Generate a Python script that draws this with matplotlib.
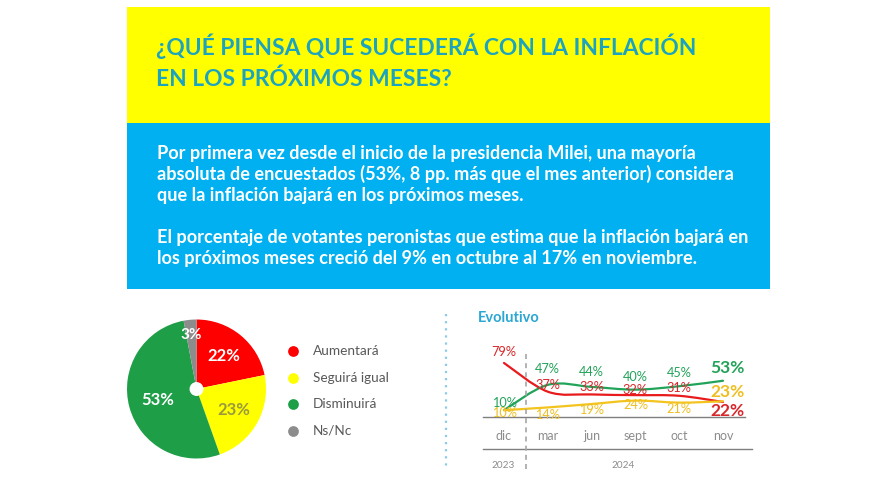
import matplotlib
matplotlib.use("Agg")
import matplotlib.pyplot as plt
from matplotlib.patches import Rectangle, Circle, PathPatch
from matplotlib.path import Path
import numpy as np

plt.rcParams['font.family'] = ['Lato', 'DejaVu Sans']

# ---------------- data ----------------
title_lines = ["¿QUÉ PIENSA QUE SUCEDERÁ CON LA INFLACIÓN", "EN LOS PRÓXIMOS MESES?"]
body_lines = [
    "Por primera vez desde el inicio de la presidencia Milei, una mayoría",
    "absoluta de encuestados (53%, 8 pp. más que el mes anterior) considera",
    "que la inflación bajará en los próximos meses.",
    "",
    "El porcentaje de votantes peronistas que estima que la inflación bajará en",
    "los próximos meses creció del 9% en octubre al 17% en noviembre.",
]

pie_categories = ["Aumentará", "Seguirá igual", "Disminuirá", "Ns/Nc"]
pie_values = [22, 23, 53, 3]

months = ["dic", "mar", "jun", "sept", "oct", "nov"]
years = ["2023", "2024"]
aumentara = [79, 37, 33, 32, 31, 22]
seguira = [10, 14, 19, 24, 21, 23]
disminuira = [10, 47, 44, 40, 45, 53]

# ---------------- styles ----------------
W, H = 888, 500
YELLOW = "#FFFF00"
BLUE = "#00B0F0"
TEAL = "#1BA3C0"
PIE_COLORS = ["#FF0000", "#FFFF00", "#1F9E48", "#8C8C8C"]
PIE_LABEL_COLORS = ["white", "#9A9A3C", "white", "white"]
LINE_RED = "#E81A1C"
LINE_GREEN = "#22A35A"
LINE_YEL = "#F3C31E"

fig = plt.figure(figsize=(W / 100, H / 100), dpi=100)
fig.patch.set_facecolor("white")

# background axes in pixel coordinates
bg = fig.add_axes([0, 0, 1, 1])
bg.set_xlim(0, W)
bg.set_ylim(H, 0)
bg.axis("off")

bg.add_patch(Rectangle((127, 7), 770 - 127, 122.5 - 7, color=YELLOW, lw=0))
bg.add_patch(Rectangle((127, 122.5), 770 - 127, 289 - 122.5, color=BLUE, lw=0))

for i, t in enumerate(title_lines):
    bg.text(156, 55 + i * 31.5, t, color=TEAL, fontsize=16.4, fontweight="bold",
            ha="left", va="baseline")

for i, t in enumerate(body_lines):
    if t:
        bg.text(157, 159 + i * 21, t, color="white", fontsize=13.1, fontweight="bold",
                ha="left", va="baseline")

# dotted separator
bg.plot([446, 446], [314, 470], color="#8CCBE3", lw=1.6, ls=(0, (1, 2.2)))

# legend
for i, (c, col) in enumerate(zip(pie_categories, PIE_COLORS)):
    y = 351 + i * 26.5
    bg.scatter([293], [y], s=60, color=col, zorder=3, linewidths=0)
    bg.text(313, y, c, color="#595959", fontsize=9.8, ha="left", va="center")

# Evolutivo title
bg.text(478, 318, "Evolutivo", color="#2AA7D3", fontsize=10.5, fontweight="bold",
        ha="left", va="center")

# year line and labels
bg.plot([483, 752], [449, 449], color="#7F7F7F", lw=1.0)
bg.text(503, 466, years[0], color="#8C8C8C", fontsize=7.2, ha="center", va="center")
bg.text(623, 466, years[1], color="#8C8C8C", fontsize=7.2, ha="center", va="center")

# ---------------- pie ----------------
cx, cy, r = 196.5, 389, 69.5
pax = fig.add_axes([(cx - r) / W, (H - cy - r) / H, 2 * r / W, 2 * r / H])
wedges, _ = pax.pie(pie_values, colors=PIE_COLORS, startangle=90, counterclock=False,
                    radius=1, wedgeprops=dict(linewidth=0))
pax.set_xlim(-1, 1)
pax.set_ylim(-1, 1)
pax.set_aspect("equal")
pax.add_patch(Circle((0, 0), 0.09, color="white", zorder=5))
label_r = [0.62, 0.62, 0.58, 0.78]
label_sz = [12.0, 12.0, 12.0, 11.0]
for w, v, lr, col, fs in zip(wedges, pie_values, label_r, PIE_LABEL_COLORS, label_sz):
    ang = np.deg2rad((w.theta1 + w.theta2) / 2)
    pax.text(lr * np.cos(ang), lr * np.sin(ang), f"{v}%", color=col, fontsize=fs,
             fontweight="bold", ha="center", va="center")

# ---------------- line chart ----------------
px_per_x = 43.8
px_per_y = 0.684
ax_left, ax_right, ax_top, ax_bot = 483, 745, 340, 417
x0_px = 504
xlim = ((ax_left - x0_px) / px_per_x, (ax_right - x0_px) / px_per_x)
ylim = (0, (ax_bot - ax_top) / px_per_y)
lax = fig.add_axes([ax_left / W, (H - ax_bot) / H, (ax_right - ax_left) / W, (ax_bot - ax_top) / H])
lax.set_xlim(*xlim)
lax.set_ylim(*ylim)
lax.patch.set_alpha(0)
for s in ["top", "right", "left"]:
    lax.spines[s].set_visible(False)
lax.spines["bottom"].set_color("#7F7F7F")
lax.spines["bottom"].set_linewidth(1.0)
lax.set_yticks([])
x = np.arange(len(months))
lax.set_xticks(x)
lax.set_xticklabels(months, color="#8C8C8C", fontsize=9)
lax.tick_params(axis="x", length=0, pad=9)


def smooth_path(xs, ys):
    pts = np.column_stack([xs, ys]).astype(float)
    n = len(pts)
    verts = [pts[0]]
    codes = [Path.MOVETO]
    for i in range(n - 1):
        p0 = pts[i - 1] if i > 0 else pts[i]
        p1 = pts[i]
        p2 = pts[i + 1]
        p3 = pts[i + 2] if i + 2 < n else pts[i + 1]
        c1 = p1 + (p2 - p0) / 6
        c2 = p2 - (p3 - p1) / 6
        verts += [c1, c2, p2]
        codes += [Path.CURVE4] * 3
    return Path(verts, codes)


series = [
    (aumentara, LINE_RED, "#D9262A", [11, 7, 7, 5, 8], -9),
    (disminuira, LINE_GREEN, "#23A35A", [7, 16, 15, 13, 13], 13),
    (seguira, LINE_YEL, "#EFBF22", [-3, -8, -6, -4, -6], 9),
]
for vals, lc, tc, offs, last_off in series:
    lax.add_patch(PathPatch(smooth_path(x, vals), facecolor="none", edgecolor=lc,
                            lw=1.6, clip_on=False, capstyle="round"))
    for i, v in enumerate(vals[:-1]):
        lax.annotate(f"{v}%", (x[i], v), xytext=(0, offs[i]), textcoords="offset pixels",
                     ha="center", va="center", color=tc, fontsize=9.2, annotation_clip=False)
    lax.annotate(f"{vals[-1]}%", (x[-1], vals[-1]), xytext=(4, last_off),
                 textcoords="offset pixels", ha="center", va="center", color=tc,
                 fontsize=12.5, fontweight="bold", annotation_clip=False)

# dashed divider between 2023 and 2024 (between dic and mar)
lax.plot([0.5, 0.5], [(ax_bot - 354) / (ax_bot - ax_top), (ax_bot - 473) / (ax_bot - ax_top)],
         transform=lax.get_xaxis_transform(), color="#A6A6A6", lw=1.2, ls=(0, (3, 2.5)),
         clip_on=False)

fig.savefig("out.png", dpi=100, facecolor="white")
